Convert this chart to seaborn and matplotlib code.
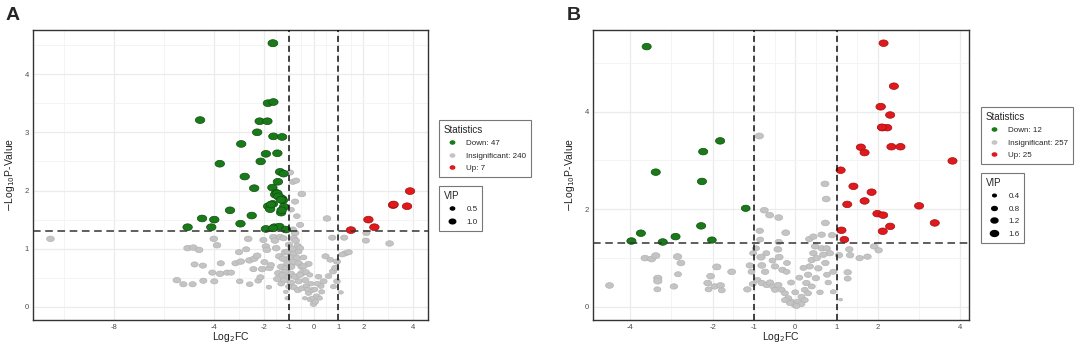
"""
Volcano plots, panels A and B.
"""
import numpy as np
import pandas as pd
import matplotlib
matplotlib.use('Agg')
import matplotlib.pyplot as plt
from matplotlib.path import Path
from matplotlib.lines import Line2D
import seaborn as sns

# ---- panel A data: (log2FC, -log10 p, VIP) ----
down_a = [
    (-1.63, 4.53, 1.4), (-1.83, 3.50, 1.3), (-1.61, 3.52, 1.3), (-4.55, 3.21, 1.3),
    (-2.16, 3.19, 1.3), (-1.85, 3.19, 1.3), (-2.26, 3.00, 1.3), (-1.61, 2.93, 1.3),
    (-1.26, 2.92, 1.3), (-2.90, 2.80, 1.3), (-1.91, 2.63, 1.3), (-1.45, 2.64, 1.3),
    (-3.76, 2.46, 1.3), (-2.12, 2.50, 1.3), (-1.34, 2.32, 1.3), (-1.20, 2.29, 1.3),
    (-2.76, 2.24, 1.3), (-1.43, 2.15, 1.3), (-1.65, 2.05, 1.3), (-2.38, 2.04, 1.3),
    (-1.50, 1.96, 1.3), (-1.54, 1.93, 1.3), (-1.37, 1.89, 1.3), (-1.26, 1.86, 1.3),
    (-1.23, 1.83, 1.3), (-1.82, 1.73, 1.3), (-1.63, 1.77, 1.3), (-1.74, 1.68, 1.3),
    (-1.18, 1.72, 1.3), (-1.30, 1.62, 1.3), (-3.35, 1.66, 1.3), (-2.48, 1.57, 1.3),
    (-4.47, 1.52, 1.3), (-3.98, 1.50, 1.3), (-2.93, 1.43, 1.3), (-5.05, 1.37, 1.3),
    (-4.10, 1.37, 1.3), (-1.91, 1.34, 1.3), (-1.57, 1.37, 1.3), (-1.37, 1.38, 1.3),
    (-1.11, 1.33, 1.3), (-1.45, 1.95, 1.3), (-1.42, 1.90, 1.3), (-1.30, 1.84, 1.3),
    (-1.70, 1.76, 1.3), (-1.62, 1.35, 1.3), (-1.28, 1.66, 1.3),
]
up_a = [
    (3.87, 1.99, 1.3), (3.19, 1.75, 1.3), (3.75, 1.73, 1.3), (2.20, 1.50, 1.3),
    (2.44, 1.37, 1.3), (1.50, 1.32, 1.3), (3.21, 1.76, 1.3),
]
insig_a = [
    (-10.55, 1.17, 0.9), (-5.48, 0.46, 0.9), (-5.22, 0.39, 0.8), (-5.05, 1.01, 0.9),
    (-4.82, 1.02, 0.9), (-4.59, 0.98, 0.9), (-4.85, 0.39, 0.8), (-4.77, 0.73, 0.8),
    (-4.44, 0.71, 0.8), (-4.42, 0.45, 0.8), (-4.00, 1.17, 0.9), (-3.87, 1.06, 0.9),
    (-4.06, 0.59, 0.8), (-3.98, 0.44, 0.8), (-3.75, 0.57, 0.9), (-3.72, 0.75, 0.8),
    (-3.47, 0.59, 0.8), (-3.31, 0.59, 0.8), (-3.13, 0.75, 0.8), (-2.96, 0.44, 0.7),
    (-2.92, 0.78, 0.9), (-2.99, 0.94, 0.8), (-2.70, 0.99, 0.8), (-2.62, 1.17, 0.9),
    (-2.56, 0.39, 0.7), (-2.57, 0.80, 0.9), (-2.41, 0.65, 0.8), (-2.38, 0.83, 0.9),
    (-2.26, 0.88, 0.9), (-2.22, 0.45, 0.7), (-2.13, 0.51, 0.8), (-2.06, 0.65, 0.9),
    (-2.01, 1.15, 0.8), (-1.97, 0.77, 0.8), (-1.91, 1.04, 0.9), (-1.87, 0.98, 0.9),
    (-1.79, 0.34, 0.5), (-1.77, 0.67, 0.9), (-1.71, 0.72, 0.8), (-1.61, 1.20, 0.9),
    (-1.55, 1.14, 0.9), (-1.50, 1.01, 0.9), (-1.46, 0.48, 0.8), (-1.41, 0.58, 0.9),
    (-1.37, 0.87, 0.9), (-1.34, 1.20, 0.9), (-1.29, 0.69, 0.9), (-1.23, 0.83, 0.9),
    (-1.20, 1.18, 0.8), (-1.18, 0.46, 0.9), (-1.14, 0.94, 0.9), (-1.11, 0.26, 0.4),
    (-1.10, 0.67, 0.9), (-1.04, 0.75, 0.9), (-1.02, 0.53, 0.9), (-0.99, 1.07, 0.8),
    (-0.94, 2.31, 0.8), (-0.90, 1.67, 0.7), (-0.83, 2.15, 0.8), (-0.70, 2.17, 0.8),
    (-0.74, 1.81, 0.8), (-0.67, 1.56, 0.7), (-0.83, 1.33, 0.8), (-0.74, 1.27, 0.9),
    (-0.47, 1.94, 0.9), (-0.54, 1.41, 0.8), (-0.80, 1.18, 0.9), (-0.72, 1.14, 0.9),
    (-0.64, 1.05, 0.8), (-0.54, 1.01, 0.8), (-0.80, 0.92, 0.9), (-0.67, 0.84, 0.9),
    (-0.80, 0.77, 0.9), (-0.90, 0.69, 0.9), (-0.60, 0.75, 0.9), (-0.47, 0.69, 0.9),
    (-0.20, 0.74, 0.8), (-0.91, 0.57, 0.9), (-0.74, 0.52, 0.9), (-0.60, 0.44, 0.8),
    (-0.47, 0.58, 0.9), (-0.33, 0.46, 0.8), (-0.91, 0.42, 0.8), (-0.80, 0.34, 0.8),
    (-0.63, 0.29, 0.8), (-0.47, 0.32, 0.7), (-0.29, 0.36, 0.7), (-0.20, 0.24, 0.7),
    (-0.13, 0.13, 0.7), (0.00, 0.05, 0.7), (0.07, 0.09, 0.7), (0.13, 0.18, 0.8),
    (-0.07, 0.29, 0.7), (0.20, 0.52, 0.7), (0.29, 0.36, 0.7), (0.40, 0.44, 0.8),
    (0.33, 0.26, 0.6), (0.48, 0.87, 0.8), (0.54, 1.52, 0.9), (0.67, 0.81, 0.7),
    (0.75, 1.19, 0.8), (0.60, 0.53, 0.7), (0.78, 0.61, 0.8), (0.87, 0.67, 0.8),
    (0.94, 0.78, 0.8), (0.94, 0.44, 0.7), (1.10, 0.25, 0.4), (1.23, 1.19, 0.8),
    (1.27, 0.92, 0.8), (1.41, 0.94, 0.8), (2.12, 1.27, 0.8), (2.10, 1.14, 0.8),
    (3.05, 1.09, 0.9), (-1.05, 0.95, 0.8), (-0.95, 0.85, 0.7), (-0.85, 1.00, 0.8),
    (-0.60, 0.95, 0.7), (-0.40, 0.85, 0.7), (-0.30, 0.60, 0.7), (-0.15, 0.55, 0.6),
    (-0.10, 0.40, 0.6), (0.05, 0.30, 0.6), (0.15, 0.40, 0.6), (-1.00, 0.35, 0.6),
    (-1.05, 0.15, 0.4), (-0.35, 0.15, 0.4), (-1.15, 0.60, 0.8), (-1.25, 0.55, 0.8),
    (-1.30, 0.40, 0.7), (-0.55, 0.55, 0.8), (-0.40, 0.70, 0.8), (-0.25, 0.30, 0.6),
    (0.25, 0.15, 0.5), (-0.05, 0.15, 0.5), (1.15, 0.90, 0.7), (0.80, 0.35, 0.6),
]

# ---- panel B data ----
down_b = [
    (-3.60, 5.33, 1.3), (-1.82, 3.40, 1.3), (-2.23, 3.18, 1.3), (-3.38, 2.76, 1.3),
    (-2.26, 2.57, 1.3), (-1.20, 2.02, 1.2), (-2.28, 1.66, 1.3), (-3.74, 1.51, 1.3),
    (-3.97, 1.35, 1.3), (-2.90, 1.44, 1.3), (-3.21, 1.33, 1.3), (-2.02, 1.37, 1.2),
]
up_b = [
    (2.14, 5.40, 1.3), (2.39, 4.52, 1.3), (2.07, 4.10, 1.4), (2.30, 3.93, 1.3),
    (2.11, 3.67, 1.3), (2.23, 3.67, 1.3), (1.59, 3.27, 1.3), (1.68, 3.16, 1.3),
    (2.33, 3.28, 1.3), (2.55, 3.28, 1.3), (3.81, 2.99, 1.3), (1.10, 2.80, 1.3),
    (1.41, 2.47, 1.3), (1.85, 2.35, 1.3), (1.68, 2.17, 1.3), (1.26, 2.10, 1.3),
    (3.00, 2.07, 1.3), (1.99, 1.91, 1.3), (2.13, 1.88, 1.3), (3.38, 1.72, 1.3),
    (2.30, 1.65, 1.3), (1.12, 1.57, 1.3), (2.12, 1.55, 1.3), (1.19, 1.38, 1.2),
    (2.10, 3.68, 1.3),
]
insig_b = [
    (-4.50, 0.44, 1.0), (-3.64, 1.00, 1.0), (-3.48, 0.98, 1.0), (-3.38, 1.05, 1.1),
    (-3.33, 0.59, 1.1), (-3.33, 0.53, 1.1), (-3.34, 0.36, 0.8), (-2.94, 0.42, 0.9),
    (-2.85, 1.03, 1.1), (-2.84, 0.67, 0.8), (-2.77, 0.90, 1.0), (-2.12, 0.49, 1.0),
    (-2.10, 0.36, 0.8), (-2.05, 0.63, 1.0), (-1.95, 0.42, 0.9), (-1.90, 0.82, 1.1),
    (-1.81, 0.44, 1.0), (-1.78, 0.34, 0.8), (-1.54, 0.72, 1.0), (-1.16, 0.36, 0.9),
    (-1.10, 0.85, 0.9), (-1.06, 0.72, 0.8), (-1.03, 0.47, 0.8), (-0.87, 3.50, 1.1),
    (-0.86, 1.56, 0.9), (-0.85, 1.38, 0.8), (-0.83, 1.02, 1.1), (-0.81, 0.85, 1.0),
    (-0.75, 1.98, 1.0), (-0.73, 0.72, 0.9), (-0.62, 1.88, 1.0), (-0.49, 0.83, 0.9),
    (-0.40, 1.83, 1.0), (-0.42, 1.18, 1.0), (-0.39, 1.02, 1.0), (-0.40, 1.33, 0.9),
    (-0.31, 0.76, 0.9), (-0.23, 1.52, 1.0), (-0.21, 0.72, 0.8), (-0.92, 0.55, 0.9),
    (-0.81, 0.49, 0.9), (-0.69, 0.45, 0.9), (-0.61, 0.50, 0.9), (-0.53, 0.42, 0.9),
    (-0.49, 0.35, 0.8), (-0.41, 0.45, 0.9), (-0.33, 0.35, 0.8), (-0.25, 0.28, 0.8),
    (-0.17, 0.18, 0.8), (-0.09, 0.11, 0.8), (-0.01, 0.04, 0.8), (0.07, 0.11, 0.8),
    (0.15, 0.21, 0.8), (0.23, 0.35, 0.8), (0.27, 0.49, 0.9), (0.31, 0.66, 0.9),
    (0.35, 0.83, 0.9), (0.40, 0.96, 0.9), (0.44, 1.10, 0.9), (0.52, 1.00, 0.9),
    (0.56, 0.79, 0.9), (0.50, 0.59, 0.9), (0.40, 0.42, 0.8), (0.31, 0.28, 0.8),
    (0.23, 0.14, 0.8), (0.15, 0.06, 0.8), (0.03, 0.02, 0.8), (-0.13, 0.08, 0.8),
    (-0.25, 0.14, 0.8), (0.73, 0.90, 0.9), (0.77, 0.66, 0.8), (0.92, 0.72, 0.8),
    (0.92, 0.31, 0.6), (0.84, 1.10, 0.9), (0.64, 1.20, 0.9), (0.48, 1.24, 0.9),
    (0.76, 1.20, 0.9), (0.68, 1.07, 0.9), (0.34, 1.39, 0.9), (0.44, 1.44, 0.9),
    (0.64, 1.48, 0.9), (0.72, 2.52, 1.0), (0.75, 2.21, 1.0), (0.73, 1.72, 1.0),
    (0.89, 1.47, 0.9), (1.06, 1.06, 0.9), (1.31, 1.18, 0.9), (1.33, 1.06, 0.9),
    (1.56, 1.00, 0.9), (1.75, 1.03, 0.9), (1.91, 1.24, 0.9), (2.02, 1.16, 0.9),
    (1.27, 0.71, 0.9), (1.27, 0.58, 0.8), (-1.02, 1.10, 0.8), (-0.95, 1.20, 0.8),
    (-0.70, 1.10, 0.8), (-0.55, 0.95, 0.8), (-0.20, 0.90, 0.8), (0.10, 0.60, 0.8),
    (0.20, 0.80, 0.8), (-0.10, 0.50, 0.8), (0.00, 0.30, 0.8), (0.60, 0.30, 0.7),
    (0.80, 0.50, 0.7), (1.10, 0.15, 0.3),
]

DOWN_LABEL_A, INSIG_LABEL_A, UP_LABEL_A = 'Down: 47', 'Insignificant: 240', 'Up: 7'
DOWN_LABEL_B, INSIG_LABEL_B, UP_LABEL_B = 'Down: 12', 'Insignificant: 257', 'Up: 25'
VIP_BREAKS_A = [0.5, 1.0]
VIP_BREAKS_B = [0.4, 0.8, 1.2, 1.6]

COLORS = {'Down': '#1a7a1a', 'Insignificant': '#c4c4c4', 'Up': '#e0191c'}
EDGES = {'Down': '#0b4f0b', 'Insignificant': '#b4b4b4', 'Up': '#a30f10'}

# the original figure was stretched sideways, so the dots are ellipses
t = np.linspace(0, 2 * np.pi, 41)
ELLIPSE = Path(np.column_stack([1.4 * np.cos(t), np.sin(t)]))


def to_frame(rows, group):
    df = pd.DataFrame(rows, columns=['log2fc', 'logp', 'vip'])
    df['group'] = group
    return df


def volcano(ax, groups, xlim, ylim, xticks, yticks, xminor, yminor, size_norm, sizes, width_px):
    for name, rows in groups:
        df = to_frame(rows, name)
        sns.scatterplot(data=df, x='log2fc', y='logp', size='vip', sizes=sizes,
                        size_norm=size_norm, color=COLORS[name], edgecolor=EDGES[name],
                        linewidth=0.5, marker=ELLIPSE, legend=False, ax=ax, zorder=3)

    ax.axhline(-np.log10(0.05), color='#333333', lw=1.1, ls=(0, (5, 3)), zorder=4)
    ax.axvline(-1, color='#111111', lw=1.1, ls=(0, (4, 2.5)), zorder=4)
    ax.axvline(1, color='#111111', lw=1.1, ls=(0, (4, 2.5)), zorder=4)

    ax.set_xlim(*xlim)
    ax.set_ylim(*ylim)
    ax.set_xticks(xticks)
    ax.set_xticklabels([str(v) for v in xticks])
    ax.set_yticks(yticks)
    ax.set_xticks(xminor, minor=True)
    ax.set_yticks(yminor, minor=True)
    ax.grid(which='major', color='#ebebeb', lw=0.9)
    ax.grid(which='minor', color='#f3f3f3', lw=0.6)
    ax.set_axisbelow(True)
    ax.tick_params(which='major', labelsize=5.5, colors='#4d4d4d', length=2, width=0.6, pad=1)
    ax.tick_params(which='minor', length=0)
    for s in ax.spines.values():
        s.set_color('#333333')
        s.set_linewidth(1.0)
    ax.set_xlabel(r'Log$_2$FC', fontsize=7.5, color='#222222')
    ax.set_ylabel(r'$-$Log$_{10}$P-Value', fontsize=7.5, color='#222222')
    ax.xaxis.set_label_coords(0.5, -0.033)
    ax.yaxis.set_label_coords(-16 / width_px, 0.5)


def legends(fig, labels, vip_breaks, pos_stat, pos_vip, size_norm, sizes):
    handles = [Line2D([], [], ls='none', marker=ELLIPSE, markersize=3.2,
                      markerfacecolor=COLORS[k], markeredgecolor=COLORS[k])
               for k in ['Down', 'Insignificant', 'Up']]
    kw = dict(frameon=True, fancybox=False, edgecolor='#555555', fontsize=5.8,
              title_fontsize=7, handlelength=2.0, handletextpad=0.8,
              labelspacing=0.6, borderpad=0.6, borderaxespad=0,
              loc='upper left', alignment='left')
    leg = fig.legend(handles, labels, title='Statistics', bbox_to_anchor=pos_stat, **kw)
    leg.get_frame().set_linewidth(0.8)

    lo, hi = size_norm
    vip_handles = []
    for v in vip_breaks:
        area = sizes[0] + (sizes[1] - sizes[0]) * (v - lo) / (hi - lo)
        vip_handles.append(Line2D([], [], ls='none', marker=ELLIPSE,
                                  markersize=np.sqrt(area) * 0.8,
                                  markerfacecolor='black', markeredgecolor='black'))
    leg2 = fig.legend(vip_handles, [f'{v:.1f}' for v in vip_breaks], title='VIP',
                      bbox_to_anchor=pos_vip, **kw)
    leg2.get_frame().set_linewidth(0.8)


sns.set_style('white')
plt.rcParams['font.family'] = ['Liberation Sans', 'DejaVu Sans']

fig = plt.figure(figsize=(10.84, 3.43), dpi=100)
ax_a = fig.add_axes([33 / 1084, 23 / 343, 395 / 1084, 290 / 343])
ax_b = fig.add_axes([593 / 1084, 23 / 343, 376 / 1084, 290 / 343])

norm_a, sizes_a = (0.2, 1.6), (4, 58)
volcano(ax_a, [('Insignificant', insig_a), ('Down', down_a), ('Up', up_a)],
        (-11.25, 4.59), (-0.224, 4.757), [-8, -4, -2, -1, 0, 1, 2, 4], [0, 1, 2, 3, 4],
        [-10, -6, -3, -1.5, -0.5, 0.5, 1.5, 3], [0.5, 1.5, 2.5, 3.5, 4.5],
        norm_a, sizes_a, 395)

norm_b, sizes_b = (0.2, 1.7), (4, 58)
volcano(ax_b, [('Insignificant', insig_b), ('Down', down_b), ('Up', up_b)],
        (-4.9, 4.21), (-0.267, 5.67), [-4, -2, -1, 0, 1, 2, 4], [0, 2, 4],
        [-3, -1.5, -0.5, 0.5, 1.5, 3], [1, 3, 5], norm_b, sizes_b, 376)

legends(fig, [DOWN_LABEL_A, INSIG_LABEL_A, UP_LABEL_A], VIP_BREAKS_A,
        (439 / 1084, 1 - 120 / 343), (439 / 1084, 1 - 186 / 343), norm_a, sizes_a)
legends(fig, [DOWN_LABEL_B, INSIG_LABEL_B, UP_LABEL_B], VIP_BREAKS_B,
        (981 / 1084, 1 - 107 / 343), (981 / 1084, 1 - 173 / 343), norm_b, sizes_b)

fig.text(6 / 1084, 1 - 7 / 343, 'A', fontsize=14, fontweight='bold', va='top', ha='left')
fig.text(567 / 1084, 1 - 7 / 343, 'B', fontsize=14, fontweight='bold', va='top', ha='left')

fig.savefig('out.png', dpi=100)
